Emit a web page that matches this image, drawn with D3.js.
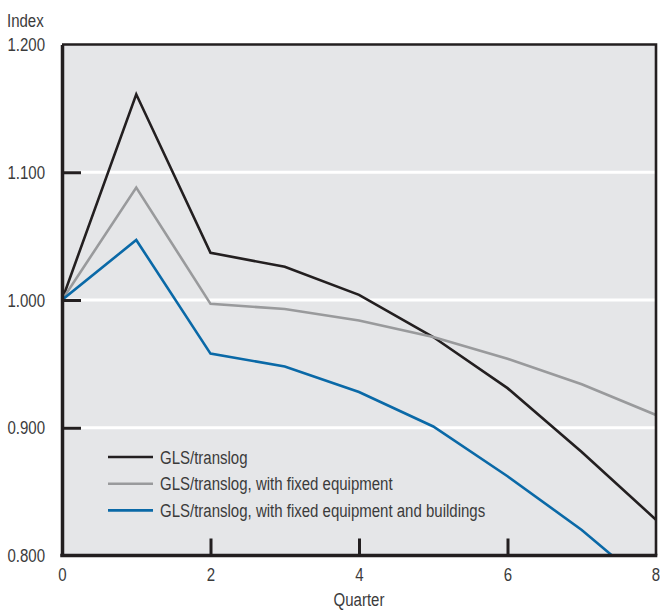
<!DOCTYPE html>
<html>
<head>
<meta charset="utf-8">
<script src="https://cdn.jsdelivr.net/npm/d3@7"></script>
<style>
  html, body { margin: 0; padding: 0; background: #ffffff; }
  svg { display: block; }
  text { font-family: "Liberation Sans", Arial, sans-serif; fill: #3b3b3b; }
</style>
</head>
<body>
<svg id="chart" width="660" height="611"></svg>
<script>
// Quarters after the shock
const quarters = [0, 1, 2, 3, 4, 5, 6, 7, 8];

// Index values by series
const glsTranslog = [1.000, 1.161, 1.037, 1.026, 1.004, 0.971, 0.931, 0.881, 0.828];
const glsFixedEquipment = [1.000, 1.088, 0.997, 0.993, 0.984, 0.971, 0.954, 0.934, 0.910];
const glsFixedEquipmentBuildings = [1.000, 1.047, 0.958, 0.948, 0.928, 0.901, 0.862, 0.820, 0.771];

const seriesNames = [
  "GLS/translog",
  "GLS/translog, with fixed equipment",
  "GLS/translog, with fixed equipment and buildings"
];
const seriesColors = ["#231f20", "#999a9c", "#0a69a7"];

// Axis ticks
const yTicks = [0.8, 0.9, 1.0, 1.1, 1.2];
const xTicks = [0, 2, 4, 6, 8];

const svg = d3.select("#chart");
const plotLeft = 62, plotRight = 656, plotTop = 44.5, plotBottom = 555.5;
const FONT_SIZE = 19;
const NARROW = 0.79;   // horizontal squeeze for a condensed look

// Move each text's x/y into a transform and narrow the glyphs horizontally
function condense(sel) {
  sel.each(function () {
    const t = d3.select(this);
    const tx = +t.attr("x") || 0;
    const ty = +t.attr("y") || 0;
    t.attr("x", 0).attr("y", 0)
      .attr("transform", `translate(${tx},${ty}) scale(${NARROW},1)`);
  });
}

const x = d3.scaleLinear().domain([0, 8]).range([plotLeft, plotRight]);
const y = d3.scaleLinear().domain([0.8, 1.2]).range([plotBottom, plotTop]);

// Plot background
svg.append("rect")
  .attr("x", plotLeft).attr("y", plotTop)
  .attr("width", plotRight - plotLeft).attr("height", plotBottom - plotTop)
  .attr("fill", "#e5e6e8");

// White gridlines
svg.append("g")
  .selectAll("line")
  .data(yTicks.slice(1, -1))
  .join("line")
  .attr("x1", plotLeft).attr("x2", plotRight)
  .attr("y1", d => y(d)).attr("y2", d => y(d))
  .attr("stroke", "#ffffff").attr("stroke-width", 3);

// Series lines, clipped to the plot area
svg.append("clipPath").attr("id", "plotClip")
  .append("rect")
  .attr("x", plotLeft).attr("y", plotTop)
  .attr("width", plotRight - plotLeft).attr("height", plotBottom - plotTop);

const series = [glsTranslog, glsFixedEquipment, glsFixedEquipmentBuildings];
const line = d3.line().x((d, i) => x(quarters[i])).y(d => y(d));

svg.append("g").attr("clip-path", "url(#plotClip)")
  .selectAll("path")
  .data(series)
  .join("path")
  .attr("d", d => line(d))
  .attr("fill", "none")
  .attr("stroke", (d, i) => seriesColors[i])
  .attr("stroke-width", 2.6)
  .attr("stroke-linejoin", "miter");

// Top and right frame
svg.append("path")
  .attr("d", `M${plotLeft},${plotTop}H${plotRight}V${plotBottom}`)
  .attr("fill", "none")
  .attr("stroke", "#231f20")
  .attr("stroke-width", 2.6);

// Y axis
const yAxis = d3.axisLeft(y)
  .tickValues(yTicks)
  .tickFormat(d3.format(".3f"))
  .tickSizeInner(-19)
  .tickSizeOuter(0)
  .tickPadding(17);

const gy = svg.append("g")
  .attr("transform", `translate(${plotLeft},0)`)
  .call(yAxis);
gy.select(".domain").attr("stroke", "#231f20").attr("stroke-width", 3.5);
gy.selectAll(".tick line").attr("stroke", "#231f20").attr("stroke-width", 3)
  .filter(d => d === 0.8 || d === 1.2).remove();
gy.selectAll(".tick text")
  .attr("font-size", FONT_SIZE)
  .attr("fill", "#3b3b3b")
  .attr("font-family", null)
  .call(condense);

// X axis
const xAxis = d3.axisBottom(x)
  .tickValues(xTicks)
  .tickFormat(d3.format("d"))
  .tickSizeInner(-17)
  .tickSizeOuter(0)
  .tickPadding(12);

const gx = svg.append("g")
  .attr("transform", `translate(0,${plotBottom})`)
  .call(xAxis);
gx.select(".domain").attr("stroke", "#231f20").attr("stroke-width", 3.5)
  .attr("d", `M${plotLeft - 1.75},0H${plotRight + 1.3}`);
gx.selectAll(".tick line").attr("stroke", "#231f20").attr("stroke-width", 3)
  .filter(d => d === 0 || d === 8).remove();
gx.selectAll(".tick text")
  .attr("font-size", FONT_SIZE)
  .attr("fill", "#3b3b3b")
  .attr("font-family", null)
  .call(condense);
// keep the last label inside the page edge
gx.selectAll(".tick").filter(d => d === 8).select("text")
  .attr("text-anchor", "end")
  .attr("transform", `translate(3.5,12) scale(${NARROW},1)`);

// Axis titles
svg.append("text")
  .attr("x", 7).attr("y", 27)
  .attr("font-size", FONT_SIZE)
  .text("Index")
  .call(condense);

svg.append("text")
  .attr("x", (plotLeft + plotRight) / 2).attr("y", 606)
  .attr("text-anchor", "middle")
  .attr("font-size", FONT_SIZE)
  .text("Quarter")
  .call(condense);

// Legend
const legend = svg.append("g").attr("transform", "translate(108,457)");
const rows = legend.selectAll("g")
  .data(seriesNames)
  .join("g")
  .attr("transform", (d, i) => `translate(0,${i * 26.7})`);
rows.append("line")
  .attr("x1", 0).attr("x2", 45)
  .attr("y1", 0).attr("y2", 0)
  .attr("stroke", (d, i) => seriesColors[i])
  .attr("stroke-width", 2.6);
rows.append("text")
  .attr("x", 52).attr("y", 0).attr("dy", "0.35em")
  .attr("font-size", FONT_SIZE)
  .text(d => d)
  .call(condense);
</script>
</body>
</html>
